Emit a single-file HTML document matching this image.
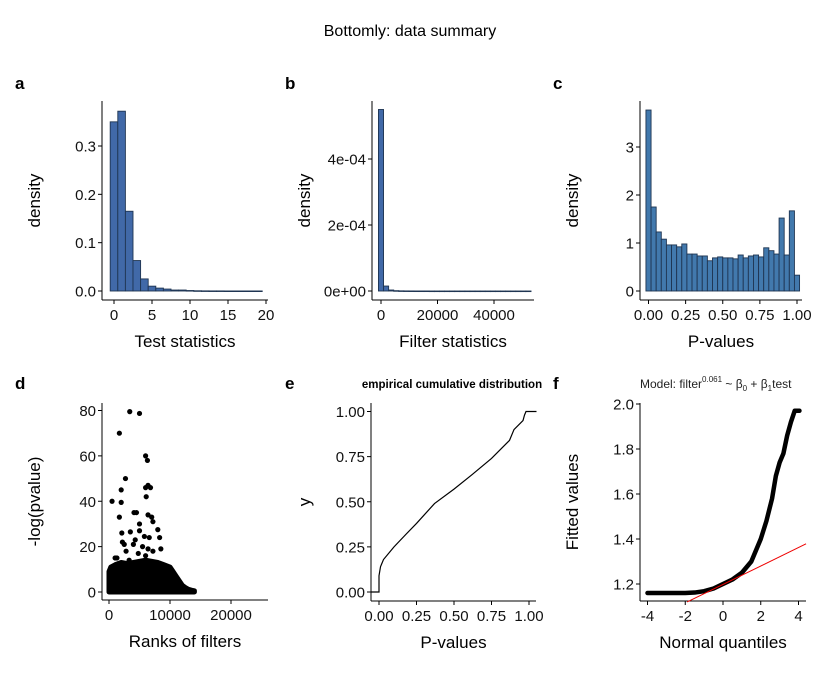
<!DOCTYPE html>
<html><head><meta charset="utf-8"><style>
body{margin:0;background:#fff;}
svg text{font-family:"Liberation Sans",sans-serif;}
</style></head><body>
<svg id="c" width="816" height="672" xmlns="http://www.w3.org/2000/svg">
<text x="410" y="36" font-size="16" text-anchor="middle">Bottomly: data summary</text>
</svg>
<script>
// Panel a: test statistics histogram
const aBins=[0,1,2,3,4,5,6,7,8,9,10,11,12,13,14,15,16,17,18,19];
const aDens=[0.35,0.372,0.165,0.063,0.025,0.01,0.006,0.004,0.002,0.002,0.001,0.0005,0.0003,0.0002,0.0002,0.0001,0.0001,0.0001,0.0001,0.0001];
const aXTicks=[0,5,10,15,20];
const aYTicks=[0,0.1,0.2,0.3];
// Panel b: filter statistics histogram
const bBins=[0,1800,3600,5400,7200,9000,10800,12600,14400,16200,18000,19800,21600,23400,25200,27000,28800,30600,32400,34200,36000,37800,39600,41400,43200,45000,46800,48600,50400,52200];
const bDens=[5.5e-4,1.5e-5,3e-6,1e-6,5e-7,3e-7,2e-7,1e-7,1e-7,1e-7,0,0,0,0,0,0,0,0,0,0,0,0,0,0,0,0,0,0,0,0];
const bXTicks=[0,20000,40000];
const bYTicks=[0,2e-4,4e-4];
const bYLabels=["0e+00","2e-04","4e-04"];
// Panel c: p-value histogram
const cDens=[3.77,1.75,1.23,1.08,0.96,0.96,0.92,0.98,0.77,0.77,0.73,0.73,0.63,0.69,0.71,0.69,0.69,0.67,0.75,0.69,0.73,0.75,0.71,0.90,0.84,0.77,1.52,0.75,1.67,0.33];
const cXTicks=[0,0.25,0.5,0.75,1];
const cYTicks=[0,1,2,3];
// Panel d: -log(pvalue) vs rank
const dEnvRank=[0,300,1000,2000,3000,4000,5000,6000,7000,8000,9000,10000,10500,11000,11500,12000,12500,13000,13500,14000];
const dEnvMax=[9,11,12,13,12.5,13,13.5,14,13.5,13,12,11,9,7,5,3,2,1.2,0.8,0.5];
const dOutRank=[1700,3400,5000,500,2000,2700,1700,2000,6000,6300,6000,6400,6800,6100,4100,4500,6400,7000,7200,5000,5000,3500,2100,4300,8000,8300,6600,5800,2200,4000,8500,1300,2800,3300,4800,6400,7200,6000,5500,2500,1000];
const dOutVal=[70,79.5,78.7,40,45,50,33,39.5,60,58,46,47,46,42,35,35,34,33,31,30,27,26.5,26,23,27.5,24,24,24.5,22,21,19,15,18,14,17,19,18,16,20,21,15];
const dXTicks=[0,10000,20000];
const dYTicks=[0,20,40,60,80];
// Panel e: ECDF of p-values
const eX=[-0.05,0,0,0.01,0.03,0.1,0.18,0.25,0.37,0.5,0.62,0.75,0.87,0.9,0.96,0.97,0.98,1.05];
const eY=[0,0,0.09,0.14,0.18,0.25,0.32,0.38,0.49,0.57,0.65,0.74,0.84,0.9,0.95,0.98,1,1];
const eXTicks=[0,0.25,0.5,0.75,1];
const eYTicks=[0,0.25,0.5,0.75,1];
// Panel f: QQ plot
const fQ=[-4,-3.5,-3,-2.5,-2,-1.5,-1,-0.5,0,0.5,1,1.5,2,2.3,2.6,2.8,3,3.2,3.4,3.6,3.8,4.05];
const fFit=[1.16,1.16,1.16,1.16,1.16,1.162,1.168,1.18,1.2,1.22,1.25,1.3,1.4,1.48,1.58,1.68,1.74,1.78,1.86,1.92,1.97,1.97];
const fIntercept=1.198, fSlope=0.041;
const fXTicks=[-4,-2,0,2,4];
const fYTicks=[1.2,1.4,1.6,1.8,2.0];

const NS="http://www.w3.org/2000/svg";
const svg=document.getElementById('c');
function el(tag,attrs,parent){const e=document.createElementNS(NS,tag);for(const k in attrs)e.setAttribute(k,attrs[k]);(parent||svg).appendChild(e);return e;}
function lin(d0,d1,r0,r1){return v=>r0+(v-d0)*(r1-r0)/(d1-d0);}
function axes(p){
  const g=el('g',{});
  
  
  const xa=el('line',{x1:p.L,x2:p.R,y1:p.B,y2:p.B,stroke:'#000','stroke-width':1},g);
  
  
  const ya=el('line',{x1:p.L,x2:p.L,y1:p.T,y2:p.B,stroke:'#000','stroke-width':1},g);
  
  
  p.xt.forEach((v,i)=>{const x=p.sx(v);el('line',{x1:x,x2:x,y1:p.B,y2:p.B+4,stroke:'#000'},g);
    const t=el('text',{x:x,y:p.B+20,'font-size':15,'text-anchor':'middle',fill:'#111'},g);t.textContent=p.xl?p.xl[i]:v;
    
    });
  p.yt.forEach((v,i)=>{const y=p.sy(v);el('line',{x1:p.L-4,x2:p.L,y1:y,y2:y,stroke:'#000'},g);
    const t=el('text',{x:p.L-6,y:y+5.5,'font-size':15,'text-anchor':'end',fill:'#111'},g);t.textContent=p.yl?p.yl[i]:v;
    
    });
  const xt=el('text',{x:(p.L+p.R)/2,y:p.B+47,'font-size':17,'text-anchor':'middle'},g);xt.textContent=p.xtitle;
  
  
  const yt=el('text',{x:p.ytx,y:(p.T+p.B)/2,'font-size':17,'text-anchor':'middle',transform:`rotate(-90 ${p.ytx} ${(p.T+p.B)/2})`},g);yt.textContent=p.ytitle;
  
  
  const lt=el('text',{x:p.lx,y:p.ly,'font-size':17,'font-weight':'bold'},g);lt.textContent=p.letter;
  
  
  return g;
}
function bars(g,lefts,w,vals,sx,sy,fill){
  lefts.forEach((l,i)=>{const x0=sx(l),x1=sx(l+w),y=sy(vals[i]),y0=sy(0);
    const r=el('rect',{x:x0,y:Math.min(y,y0),width:x1-x0,height:Math.max(Math.abs(y0-y),0.6),fill:fill,stroke:'#1f3552','stroke-width':0.9},g);
    
    });
}
// a
{const sx=lin(0,20,114,266),sy=lin(0,0.3,291,146);
 const g=axes({name:'a',L:102,R:268,T:101,B:300,sx,sy,xt:aXTicks,yt:aYTicks,yl:aYTicks.map(v=>v.toFixed(1)),xtitle:'Test statistics',ytitle:'density',ytx:40,letter:'a',lx:15,ly:89});
 bars(g,aBins.map(b=>b-0.5),1,aDens,sx,sy,'#4169a8');}
// b
{const sx=lin(0,20000,381,437.5),sy=lin(0,4e-4,291,159);
 const g=axes({name:'b',L:372,R:534,T:101,B:300,sx,sy,xt:bXTicks,yt:bYTicks,yl:bYLabels,xtitle:'Filter statistics',ytitle:'density',ytx:310,letter:'b',lx:285,ly:89});
 bars(g,bBins.map(b=>b-900),1800,bDens,sx,sy,'#4169a8');}
// c
{const sx=lin(0,1,648.5,797),sy=lin(0,3,291,147);const w=1/29;
 const g=axes({name:'c',L:640,R:802,T:101,B:300,sx,sy,xt:cXTicks,yt:cYTicks,yl:cYTicks.map(String),xl:cXTicks.map(v=>v.toFixed(2)),xtitle:'P-values',ytitle:'density',ytx:578,letter:'c',lx:553,ly:89});
 bars(g,cDens.map((_,i)=>-w/2+i*w),w,cDens,sx,sy,'#4279ad');}
// d
{const sx=lin(0,10000,109,170),sy=lin(0,80,592,410.5);
 const g=axes({name:'d',L:102,R:268,T:403,B:600,sx,sy,xt:dXTicks,yt:dYTicks,xtitle:'Ranks of filters',ytitle:'-log(pvalue)',ytx:40,letter:'d',lx:15,ly:389});
 let pts=dEnvRank.map((r,i)=>sx(r)+','+sy(dEnvMax[i])).join(' ');
 pts+=' '+sx(dEnvRank[dEnvRank.length-1])+','+sy(0)+' '+sx(0)+','+sy(0);
 const poly=el('polygon',{points:pts,fill:'#000',stroke:'#000','stroke-width':5,'stroke-linejoin':'round'},g);
 
 
 dOutRank.forEach((r,i)=>{const c=el('circle',{cx:sx(r),cy:sy(dOutVal[i]),r:2.6,fill:'#000'},g);
   
   });}
// e
{const sx=lin(0,1,379,529),sy=lin(0,1,592,411.5);
 const g=axes({name:'e',L:371,R:536,T:403,B:601,sx,sy,xt:eXTicks,yt:eYTicks,xl:eXTicks.map(v=>v.toFixed(2)),yl:eYTicks.map(v=>v.toFixed(2)),xtitle:'P-values',ytitle:'y',ytx:310,letter:'e',lx:285,ly:389});
 const p=el('polyline',{points:eX.map((x,i)=>sx(x)+','+sy(eY[i])).join(' '),fill:'none',stroke:'#000','stroke-width':1.2},g);
 
 
 const t=el('text',{x:452,y:388,'font-size':11.5,'font-weight':'bold','text-anchor':'middle'},g);t.textContent='empirical cumulative distribution';
 
 }
// f
{const sx=lin(-4,4,647.5,798.5),sy=lin(1.2,2.0,584,404);
 const g=axes({name:'f',L:640,R:806,T:403,B:601,sx,sy,xt:fXTicks,yt:fYTicks,yl:fYTicks.map(v=>v.toFixed(1)),xtitle:'Normal quantiles',ytitle:'Fitted values',ytx:578,letter:'f',lx:553,ly:389});
 const p=el('polyline',{points:fQ.map((q,i)=>sx(q)+','+sy(fFit[i])).join(' '),fill:'none',stroke:'#000','stroke-width':4.5,'stroke-linecap':'round','stroke-linejoin':'round'},g);
 
 
 const x0=-1.9,x1=4.4;
 const l=el('line',{x1:sx(x0),y1:sy(fIntercept+fSlope*x0),x2:sx(x1),y2:sy(fIntercept+fSlope*x1),stroke:'#e00','stroke-width':1},g);
 
 
 const t=el('text',{x:640,y:388,'font-size':12,fill:'#222'},g);
 t.innerHTML='Model: filter<tspan dy="-6" font-size="8">0.061</tspan><tspan dy="6"> ~ β</tspan><tspan dy="3" font-size="8">0</tspan><tspan dy="-3"> + β</tspan><tspan dy="3" font-size="8">1</tspan><tspan dy="-3">test</tspan>';
 
 }
</script>
</body></html>
